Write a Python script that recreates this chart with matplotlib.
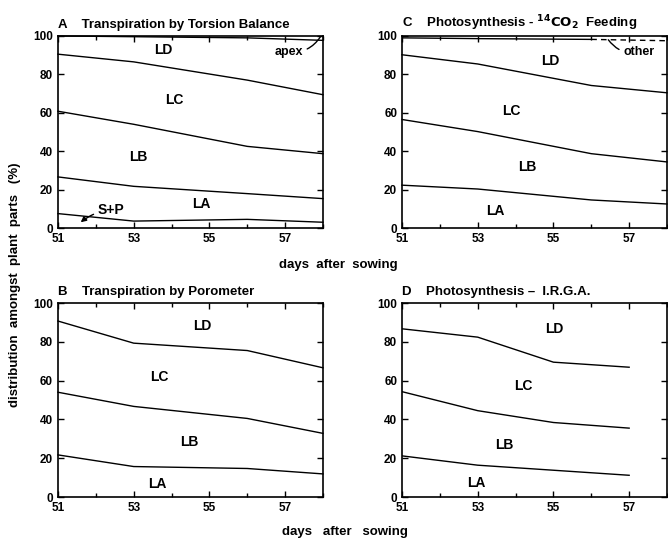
import matplotlib
matplotlib.use("Agg")
import matplotlib.pyplot as plt
from matplotlib.ticker import MultipleLocator

plt.rcParams['font.family'] = ['Liberation Sans', 'DejaVu Sans']
plt.rcParams['font.weight'] = 'bold'

# Panel A: Transpiration by Torsion Balance (cumulative boundaries, %)
days_A = [51, 53, 56, 58]
A_sp = [7.5, 3.6, 4.5, 3.0]
A_la = [26.6, 21.7, 17.9, 15.3]
A_lb = [60.8, 54.0, 42.5, 38.7]
A_lc = [90.5, 86.5, 77.0, 69.4]
A_ld = [100.0, 99.6, 99.0, 97.7]

# Panel C: Photosynthesis - 14CO2 Feeding
days_C = [51, 53, 56, 58]
C_la = [22.3, 20.3, 14.6, 12.5]
C_lb = [56.5, 50.2, 38.7, 34.4]
C_lc = [90.2, 85.4, 74.2, 70.4]
C_ld = [99.0, 98.6, 98.2, 97.5]

# Panel B: Transpiration by Porometer
days_B = [51, 53, 56, 58]
B_la = [21.7, 15.7, 14.7, 11.9]
B_lb = [54.0, 46.7, 40.5, 32.8]
B_lc = [90.7, 79.3, 75.5, 66.6]

# Panel D: Photosynthesis - I.R.G.A.
days_D = [51, 53, 55, 57]
D_la = [21.2, 16.4, 13.8, 11.2]
D_lb = [54.3, 44.5, 38.4, 35.5]
D_lc = [86.7, 82.4, 69.5, 66.9]

xticks = [51, 53, 55, 57]
yticks = [0, 20, 40, 60, 80, 100]

fig = plt.figure(figsize=(6.68, 5.38), dpi=100)
W = 0.3967
axA = fig.add_axes([0.0868, 0.5762, W, 0.357])
axC = fig.add_axes([0.6018, 0.5762, W, 0.357])
axB = fig.add_axes([0.0868, 0.0762, W, 0.3606])
axD = fig.add_axes([0.6018, 0.0762, W, 0.3606])

def style(ax, title):
    ax.set_xlim(51, 58)
    ax.set_ylim(0, 100)
    ax.set_xticks(xticks)
    ax.set_yticks(yticks)
    ax.xaxis.set_minor_locator(MultipleLocator(1))
    ax.tick_params(which='both', direction='in', top=True, right=True,
                   labelsize=8.5, width=1.0)
    ax.tick_params(which='major', length=4)
    ax.tick_params(which='minor', length=3)
    for lab in ax.get_xticklabels() + ax.get_yticklabels():
        lab.set_fontweight('bold')
    for s in ax.spines.values():
        s.set_linewidth(1.2)
    ax.set_title(title, loc='left', fontsize=9.5, fontweight='bold', pad=6)

lw = 1.0
style(axA, "A    Transpiration by Torsion Balance")
for ys in (A_sp, A_la, A_lb, A_lc, A_ld):
    axA.plot(days_A, ys, color='black', lw=lw, clip_on=False)
lab = dict(fontsize=10, fontweight='bold', ha='center', va='center')
axA.text(53.77, 92.5, "LD", **lab)
axA.text(54.06, 66.8, "LC", **lab)
axA.text(53.13, 37.0, "LB", **lab)
axA.text(54.78, 12.3, "LA", **lab)
axA.annotate("S+P", xy=(51.6, 3.0), xytext=(52.4, 9.5), fontsize=10,
             fontweight='bold', ha='center', va='center',
             arrowprops=dict(arrowstyle='-|>', color='black', lw=1.0,
                             mutation_scale=8, shrinkA=1, shrinkB=0,
                             connectionstyle='arc3,rad=0.15'))
axA.annotate("apex", xy=(57.93, 99.5), xytext=(57.1, 91.7), fontsize=9,
             fontweight='bold', ha='center', va='center',
             arrowprops=dict(arrowstyle='-', color='black', lw=1.0,
                             connectionstyle='arc3,rad=0.3', shrinkA=1, shrinkB=0))

style(axC, "C    Photosynthesis - $\\mathbf{^{14}CO_2}$  Feeding")
for ys in (C_la, C_lb, C_lc):
    axC.plot(days_C, ys, color='black', lw=lw, clip_on=False)
axC.plot(days_C[:3], C_ld[:3], color='black', lw=lw)
axC.plot(days_C[2:], C_ld[2:], color='black', lw=lw, ls=(0, (4, 3)))
axC.text(54.93, 86.8, "LD", **lab)
axC.text(53.88, 61.0, "LC", **lab)
axC.text(54.32, 31.8, "LB", **lab)
axC.text(53.46, 8.6, "LA", **lab)
axC.annotate("other", xy=(56.45, 98.0), xytext=(57.25, 91.4), fontsize=9,
             fontweight='bold', ha='center', va='center',
             arrowprops=dict(arrowstyle='-', color='black', lw=1.0,
                             connectionstyle='arc3,rad=-0.3', shrinkA=1, shrinkB=0))

style(axB, "B    Transpiration by Porometer")
for ys in (B_la, B_lb, B_lc):
    axB.plot(days_B, ys, color='black', lw=lw, clip_on=False)
axB.text(54.8, 88.4, "LD", **lab)
axB.text(53.67, 61.7, "LC", **lab)
axB.text(54.48, 28.1, "LB", **lab)
axB.text(53.63, 6.6, "LA", **lab)

style(axD, "D    Photosynthesis \u2013  I.R.G.A.")
for ys in (D_la, D_lb, D_lc):
    axD.plot(days_D, ys, color='black', lw=lw)
axD.text(55.02, 86.7, "LD", **lab)
axD.text(54.2, 57.4, "LC", **lab)
axD.text(53.7, 26.9, "LB", **lab)
axD.text(52.97, 7.4, "LA", **lab)

fig.text(338 / 668, 1 - 265 / 538, "days  after  sowing", fontsize=9.5,
         fontweight='bold', ha='center', va='center')
fig.text(345 / 668, 1 - 532 / 538, "days   after   sowing", fontsize=9.5,
         fontweight='bold', ha='center', va='center')
fig.text(15 / 668, 1 - 285 / 538, "distribution  amongst  plant  parts   (%)",
         fontsize=9.5, fontweight='bold', ha='center', va='center', rotation=90)

fig.savefig("out.png", dpi=100)
